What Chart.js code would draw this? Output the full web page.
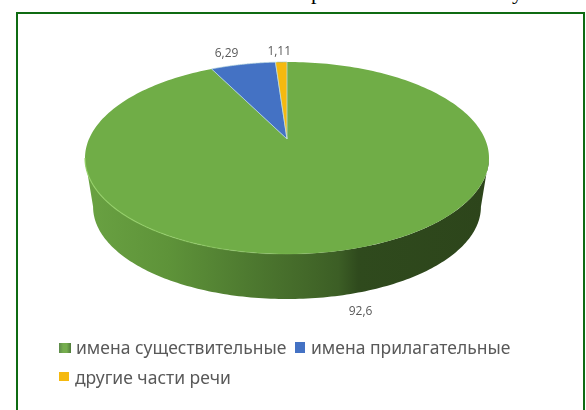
<!DOCTYPE html>
<html lang="ru">
<head>
    <meta charset="UTF-8">
    <title>Части речи</title>
    <script src="https://cdn.jsdelivr.net/npm/chart.js"></script>
    <style>
        html, body { margin: 0; padding: 0; background: white; }
        #page { position: relative; width: 586px; height: 410px; overflow: hidden; }
        #frame {
            position: absolute;
            left: 16px; top: 12px;
            width: 565px; height: 410px;
            border: 2px solid #0f6b12;
        }
        #myChart { position: absolute; left: 0; top: 0; }
        .heading {
            position: absolute;
            top: -21px;
            font: 22px "Liberation Serif", serif;
            color: black;
        }
        .legend-item {
            position: absolute;
            font: 17.5px "Noto Sans", sans-serif;
            color: #595959;
            white-space: nowrap;
        }
        .swatch { position: absolute; }
    </style>
</head>
<body>
    <div id="page">
        <span class="heading" style="left:311px">р</span>
        <span class="heading" style="left:512px">у</span>
        <div id="frame"></div>
        <canvas id="myChart" width="586" height="410"></canvas>
        <div id="legend"></div>
    </div>
    <script>
        const categories = ['имена существительные', 'имена прилагательные', 'другие части речи'];
        const shares = [92.6, 6.29, 1.11];
        const sliceColors = ['#70AD47', '#4472C4', '#F5B90F'];

        // pie tilt: how the flat circle maps onto the page
        const tilt = -0.198;
        const squash = 0.466;
        const wallDrop = 49.6;
        const wallShrink = 0.96;

        // data label offsets from the rim point at each slice's middle
        const labelOffsets = [[17, 61], [-16.5, -11], [-2, -10]];

        function rimPoint(arc, angle, shrink, drop) {
            const u = Math.cos(angle), v = Math.sin(angle);
            const w = 1 + tilt * v;
            return {
                x: arc.x + shrink * arc.outerRadius * u / w,
                y: arc.y + drop + shrink * arc.outerRadius * squash * v / w
            };
        }

        function traceSlice(ctx, arc) {
            ctx.beginPath();
            ctx.moveTo(arc.x, arc.y);
            for (let i = 0; i <= 240; i++) {
                const a = arc.startAngle + (arc.endAngle - arc.startAngle) * i / 240;
                const p = rimPoint(arc, a, 1, 0);
                ctx.lineTo(p.x, p.y);
            }
            ctx.closePath();
        }

        function drawWall(ctx, arc) {
            const a0 = Math.asin(-tilt), a1 = Math.PI - a0;
            const steps = 160;
            ctx.beginPath();
            for (let i = 0; i <= steps; i++) {
                const p = rimPoint(arc, a0 + (a1 - a0) * i / steps, 1, 0);
                i ? ctx.lineTo(p.x, p.y) : ctx.moveTo(p.x, p.y);
            }
            for (let i = steps; i >= 0; i--) {
                const p = rimPoint(arc, a0 + (a1 - a0) * i / steps, wallShrink, wallDrop);
                ctx.lineTo(p.x, p.y);
            }
            ctx.closePath();
            const left = arc.x - arc.outerRadius, width = arc.outerRadius * 2;
            const g = ctx.createLinearGradient(left, 0, left + width, 0);
            g.addColorStop(0, '#69A142');
            g.addColorStop(0.2, '#5E9339');
            g.addColorStop(0.4, '#4E7A30');
            g.addColorStop(0.55, '#436829');
            g.addColorStop(0.63, '#3C5E25');
            g.addColorStop(0.68, '#2F4A1D');
            g.addColorStop(1, '#2D451B');
            ctx.fillStyle = g;
            ctx.fill();
        }

        function drawRimLight(ctx, arc) {
            const left = arc.x - arc.outerRadius;
            const g = ctx.createLinearGradient(left, 0, arc.x + 60, 0);
            g.addColorStop(0, 'rgba(150,210,105,0.9)');
            g.addColorStop(1, 'rgba(150,210,105,0)');
            ctx.beginPath();
            for (let i = 0; i <= 100; i++) {
                const p = rimPoint(arc, Math.PI - Math.asin(-tilt) - (Math.PI / 2) * i / 100, 1, 0);
                i ? ctx.lineTo(p.x, p.y) : ctx.moveTo(p.x, p.y);
            }
            ctx.strokeStyle = g;
            ctx.lineWidth = 1.2;
            ctx.stroke();
        }

        // draws the library's arc elements tilted, with the side wall underneath
        const tiltedPie = {
            id: 'tiltedPie',
            beforeDatasetDraw(chart, args) {
                const ctx = chart.ctx;
                const arcs = args.meta.data;
                ctx.save();
                drawWall(ctx, arcs[0]);
                arcs.forEach((arc, i) => {
                    traceSlice(ctx, arc);
                    ctx.fillStyle = sliceColors[i];
                    ctx.fill();
                    if (i > 0) {
                        ctx.strokeStyle = 'rgba(190,220,225,0.75)';
                        ctx.lineWidth = 1;
                        ctx.stroke();
                    }
                });
                drawRimLight(ctx, arcs[0]);
                ctx.fillStyle = '#595959';
                ctx.font = '12px "Open Sans", sans-serif';
                ctx.textAlign = 'center';
                ctx.textBaseline = 'middle';
                arcs.forEach((arc, i) => {
                    const p = rimPoint(arc, (arc.startAngle + arc.endAngle) / 2, 1, 0);
                    ctx.fillText(String(shares[i]).replace('.', ','), p.x + labelOffsets[i][0], p.y + labelOffsets[i][1]);
                });
                ctx.restore();
                return false;
            }
        };

        new Chart(document.getElementById('myChart').getContext('2d'), {
            type: 'pie',
            data: {
                labels: categories,
                datasets: [{ data: shares, backgroundColor: sliceColors, borderWidth: 0, radius: 198 }]
            },
            options: {
                responsive: false,
                animation: false,
                layout: { padding: { right: 12, bottom: 132 } },
                plugins: { legend: { display: false }, tooltip: { enabled: false } }
            },
            plugins: [tiltedPie]
        });

        // legend: two rows, left aligned
        const legendSpots = [
            { box: [59, 343, 12, 10], text: [76, 335] },
            { box: [295, 342, 10, 11], text: [311, 335] },
            { box: [59, 372, 10, 9], text: [75, 365] }
        ];
        const legend = document.getElementById('legend');
        categories.forEach((name, i) => {
            const spot = legendSpots[i];
            const box = document.createElement('div');
            box.className = 'swatch';
            box.style.cssText = `left:${spot.box[0]}px;top:${spot.box[1]}px;width:${spot.box[2]}px;height:${spot.box[3]}px;background:${sliceColors[i]}`;
            // first key carries the wall shading on its sides
            if (i === 0) box.style.background = 'linear-gradient(90deg, #5E8A4C, #75AD4E 35%, #75AD4E 65%, #4F7A3A)';
            legend.appendChild(box);
            const label = document.createElement('div');
            label.className = 'legend-item';
            label.style.left = spot.text[0] + 'px';
            label.style.top = spot.text[1] + 'px';
            label.textContent = name;
            legend.appendChild(label);
        });
    </script>
</body>
</html>
